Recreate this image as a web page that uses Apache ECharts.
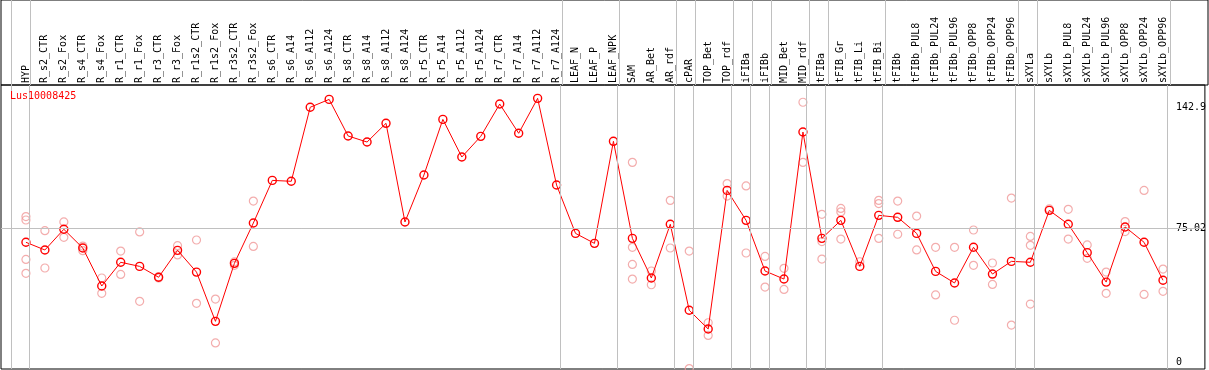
<!DOCTYPE html>
<html><head><meta charset="utf-8">
<script src="https://cdn.jsdelivr.net/npm/echarts@6/dist/echarts.min.js"></script>
<style>html,body{margin:0;padding:0;background:#fff}#c{width:1209px;height:370px}</style>
</head><body><div id="c"></div><script>
const geneName = 'Lus10008425';
const categories = ['HYP','R_s2_CTR','R_s2_Fox','R_s4_CTR','R_s4_Fox','R_r1_CTR','R_r1_Fox','R_r3_CTR','R_r3_Fox','R_r1s2_CTR','R_r1s2_Fox','R_r3s2_CTR','R_r3s2_Fox','R_s6_CTR','R_s6_A14','R_s6_A112','R_s6_A124','R_s8_CTR','R_s8_A14','R_s8_A112','R_s8_A124','R_r5_CTR','R_r5_A14','R_r5_A112','R_r5_A124','R_r7_CTR','R_r7_A14','R_r7_A112','R_r7_A124','LEAF_N','LEAF_P','LEAF_NPK','SAM','AR_Bet','AR_rdf','cPAR','TOP_Bet','TOP_rdf','iFIBa','iFIBb','MID_Bet','MID_rdf','tFIBa','tFIB_Gr','tFIB_Li','tFIB_Bi','tFIBb','tFIBb_PUL8','tFIBb_PUL24','tFIBb_PUL96','tFIBb_OPP8','tFIBb_OPP24','tFIBb_OPP96','sXYLa','sXYLb','sXYLb_PUL8','sXYLb_PUL24','sXYLb_PUL96','sXYLb_OPP8','sXYLb_OPP24','sXYLb_OPP96'];
const meanValues = [67.1,62.8,74.4,63.9,42.6,55.9,53.6,47.5,62.6,50.4,22.8,55.3,77.9,101.8,101.3,142.8,147.2,126.7,123.3,133.8,78.5,104.8,136.0,114.9,126.5,144.6,128.2,147.8,99.2,72.1,66.5,123.7,69.3,47.1,77.2,29.0,18.5,96.2,79.4,51.0,46.5,128.9,69.3,79.4,53.6,82.2,81.1,72.1,50.8,44.3,64.3,49.3,56.4,55.9,85.0,77.2,61.3,44.8,75.7,67.1,45.8];
const replicates = [
  [81.5,79.6,57.5,49.7],[73.6,52.7],[78.5,69.9],[65.0,62.4],[47.1,38.5],[62.2,49.1],[72.9,34.0],[47.1,47.8],[65.2,60.0],[68.4,32.9],[35.3,10.7],[56.1,54.2],[90.2,64.8],
  [],[],[],[],[],[],[],[],[],[],[],[],[],[],[],[],[],[],[],
  [111.9,64.3,54.7,46.5],[51.0,43.3],[90.6,63.9],[62.2,-3.7],[22.0,14.9],[100.0,93.0],[98.7,61.1],[59.2,42.0],[52.5,40.7],[145.6,111.9],
  [82.8,67.5,57.7],[86.1,84.1,68.9],[56.2],[90.6,88.8,69.3],[90.2,71.6],
  [81.8,62.8],[64.3,37.6],[64.3,23.4],[74.0,54.2],[55.5,43.5],[91.9,20.7],
  [70.4,65.4,32.5],[85.8],[85.6,68.9],[65.6,58.1],[50.4,38.5],[78.7,73.1],[96.2,37.9],[52.1,39.6]
];
const groupEnds = [-1,0,28,31,34,35,37,38,39,41,42,45,52,53,60];
const yTickValues = [0, 75.02, 142.9];
const refLineValue = 75.02;

const FONT = 'DejaVu Sans Mono';
const X_MIN = -1.316, X_MAX = 62.21;
const Y_MIN = -3.92, Y_MAX = 155.27;

const meanData = meanValues.map((v, i) => [i, v]);
const repData = [];
replicates.forEach((arr, i) => arr.forEach(v => repData.push([i, v])));
const sepLines = groupEnds.map(g => ({ xAxis: g + 0.2 }));
const tickIdx = categories.map((c, i) => i);

const chart = echarts.init(document.getElementById('c'), null, { renderer: 'canvas' });
chart.setOption({
  animation: false,
  backgroundColor: '#fff',
  title: {
    text: geneName, left: 10, top: 91, padding: 0,
    textStyle: { color: '#ff0000', fontFamily: FONT, fontSize: 10, fontWeight: 'normal' }
  },
  grid: [
    { left: 1, right: 1, top: 85, bottom: 1, show: true, borderColor: '#000', borderWidth: 1, backgroundColor: 'transparent' },
    { left: 1, right: 1, top: 0, height: 85, show: true, borderColor: '#000', borderWidth: 1, backgroundColor: 'transparent' }
  ],
  xAxis: [
    {
      type: 'value', gridIndex: 0, position: 'top', min: X_MIN, max: X_MAX,
      axisLine: { show: false }, axisTick: { show: false }, splitLine: { show: false },
      axisLabel: {
        customValues: tickIdx, rotate: 90, margin: 2,
        fontFamily: FONT, fontSize: 10, color: '#000',
        formatter: v => categories[Math.round(v)] || ''
      }
    },
    {
      type: 'value', gridIndex: 1, min: X_MIN, max: X_MAX, show: false
    }
  ],
  yAxis: [
    {
      type: 'value', gridIndex: 0, position: 'right', min: Y_MIN, max: Y_MAX,
      axisLine: { show: false }, axisTick: { show: false }, splitLine: { show: false },
      axisLabel: {
        customValues: yTickValues, inside: true, align: 'left', margin: 29,
        fontFamily: FONT, fontSize: 10, color: '#000',
        formatter: v => String(v)
      }
    },
    { type: 'value', gridIndex: 1, min: 0, max: 1, show: false }
  ],
  series: [
    {
      type: 'line', xAxisIndex: 0, yAxisIndex: 0, data: [], z: 1, silent: true,
      markLine: {
        silent: true, symbol: ['none', 'none'], label: { show: false },
        lineStyle: { color: '#c0c0c0', width: 1, type: 'solid' },
        emphasis: { disabled: true },
        data: sepLines.concat([{ yAxis: refLineValue }])
      }
    },
    {
      type: 'line', xAxisIndex: 1, yAxisIndex: 1, data: [], z: 1, silent: true,
      markLine: {
        silent: true, symbol: ['none', 'none'], label: { show: false },
        lineStyle: { color: '#c0c0c0', width: 1, type: 'solid' },
        emphasis: { disabled: true },
        data: sepLines
      }
    },
    {
      type: 'scatter', xAxisIndex: 0, yAxisIndex: 0, data: repData, z: 2,
      symbol: 'circle', symbolSize: 8,
      itemStyle: { color: 'rgba(0,0,0,0)', borderColor: '#f09898', borderWidth: 1.2 }
    },
    {
      type: 'line', xAxisIndex: 0, yAxisIndex: 0, data: meanData, z: 3,
      symbol: 'circle', symbolSize: 8, showAllSymbol: true,
      lineStyle: { color: '#ff0000', width: 1 },
      itemStyle: { color: 'rgba(0,0,0,0)', borderColor: '#ff0000', borderWidth: 1.4 }
    }
  ]
});
</script></body></html>
